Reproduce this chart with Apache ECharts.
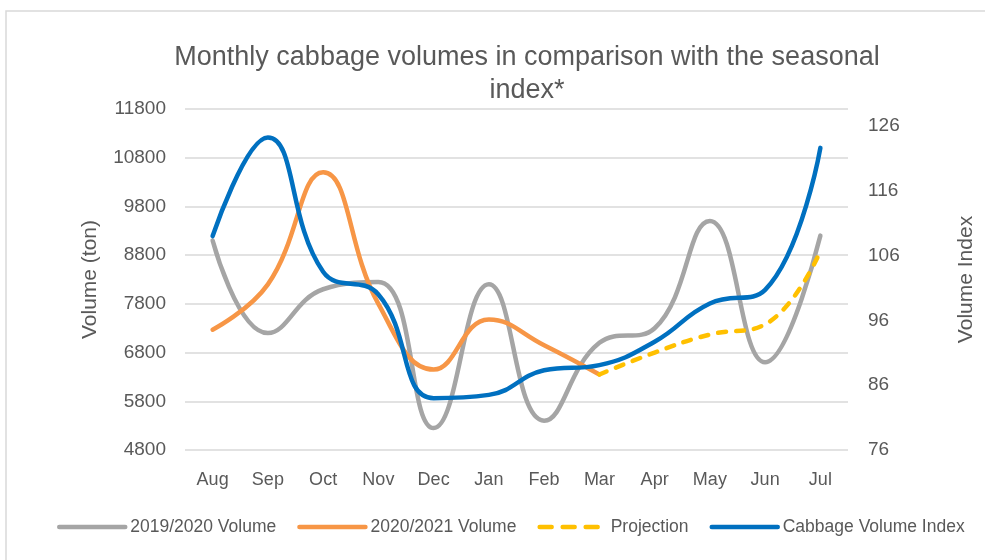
<!DOCTYPE html>
<html>
<head>
<meta charset="utf-8">
<script src="https://cdn.jsdelivr.net/npm/echarts@6/dist/echarts.min.js"></script>
<style>
  html, body { margin: 0; padding: 0; background: #fff; }
  #chart { width: 985px; height: 560px; }
</style>
</head>
<body>
<div id="chart"></div>
<script>
var months = ['Aug', 'Sep', 'Oct', 'Nov', 'Dec', 'Jan', 'Feb', 'Mar', 'Apr', 'May', 'Jun', 'Jul'];
var vol1920 = [9100, 7200, 8100, 8250, 5250, 8200, 5400, 7000, 7300, 9500, 6600, 9200];
var vol2021 = [7270, 8200, 10500, 7800, 6450, 7480, 6950, 6350, null, null, null, null];
var projection = [null, null, null, null, null, null, null, 6350, 6800, 7170, 7380, 8880];
var volIndex = [109, 124.2, 103.5, 100, 84, 84.5, 88.3, 89.1, 92.7, 98.6, 100.7, 122.6];

var font = '"Liberation Sans", Arial, sans-serif';
var txt = '#595959';

var chart = echarts.init(document.getElementById('chart'));

function line(name, data, color, yIdx, dashed) {
  return {
    name: name,
    type: 'line',
    yAxisIndex: yIdx,
    data: data,
    smooth: 0.45,
    symbol: 'none',
    connectNulls: false,
    lineStyle: { color: color, width: 4.5, cap: 'round', join: 'round', type: dashed ? [8, 10] : 'solid' },
    itemStyle: { color: color }
  };
}

chart.setOption({
  backgroundColor: '#fff',
  animation: false,
  title: {
    text: 'Monthly cabbage volumes in comparison with the seasonal\nindex*',
    left: 522,
    top: 36,
    textAlign: 'center',
    textStyle: { fontFamily: font, fontSize: 27, fontWeight: 'normal', color: txt, lineHeight: 33 }
  },
  graphic: [{
    type: 'rect',
    shape: { x: 6, y: 11, width: 1000, height: 600 },
    style: { fill: 'none', stroke: '#D9D9D9', lineWidth: 1.5 },
    silent: true
  }],
  legend: {
    left: 52,
    top: 513,
    width: 930,
    itemWidth: 66,
    itemHeight: 14,
    itemGap: 21,
    itemStyle: { opacity: 0 },
    lineStyle: { width: 4.5, cap: 'round' },
    textStyle: { fontFamily: font, fontSize: 17.5, color: txt },
    data: [
      '2019/2020 Volume',
      '2020/2021 Volume',
      { name: 'Projection', lineStyle: { type: [12, 11], width: 4.5, cap: 'round' } },
      'Cabbage Volume Index'
    ]
  },
  grid: { left: 185, right: 137, top: 109, bottom: 110 },
  xAxis: {
    type: 'category',
    data: months,
    boundaryGap: true,
    axisLine: { show: false },
    axisTick: { show: false },
    axisLabel: { fontFamily: font, fontSize: 18, color: txt, margin: 21 }
  },
  yAxis: [{
    type: 'value',
    min: 4800,
    max: 11800,
    interval: 1000,
    name: 'Volume (ton)',
    nameLocation: 'middle',
    nameRotate: 90,
    nameGap: 84,
    nameTextStyle: { fontFamily: font, fontSize: 21, color: txt },
    axisLine: { show: false },
    axisTick: { show: false },
    axisLabel: { fontFamily: font, fontSize: 19, color: txt, margin: 19, formatter: function (v) { return String(v); } },
    splitLine: { lineStyle: { color: '#D9D9D9', width: 1.5 } }
  }, {
    type: 'value',
    min: 76,
    max: 128.6,
    interval: 10,
    position: 'right',
    name: 'Volume Index',
    nameLocation: 'middle',
    nameRotate: 90,
    nameGap: 108,
    nameTextStyle: { fontFamily: font, fontSize: 21, color: txt },
    axisLine: { show: false },
    axisTick: { show: false },
    axisLabel: { fontFamily: font, fontSize: 19, color: txt, margin: 20, showMaxLabel: false },
    splitLine: { show: false }
  }],
  series: [
    line('2019/2020 Volume', vol1920, '#A5A5A5', 0, false),
    line('2020/2021 Volume', vol2021, '#F79646', 0, false),
    line('Projection', projection, '#FFC000', 0, true),
    line('Cabbage Volume Index', volIndex, '#0070C0', 1, false)
  ]
});
</script>
</body>
</html>
